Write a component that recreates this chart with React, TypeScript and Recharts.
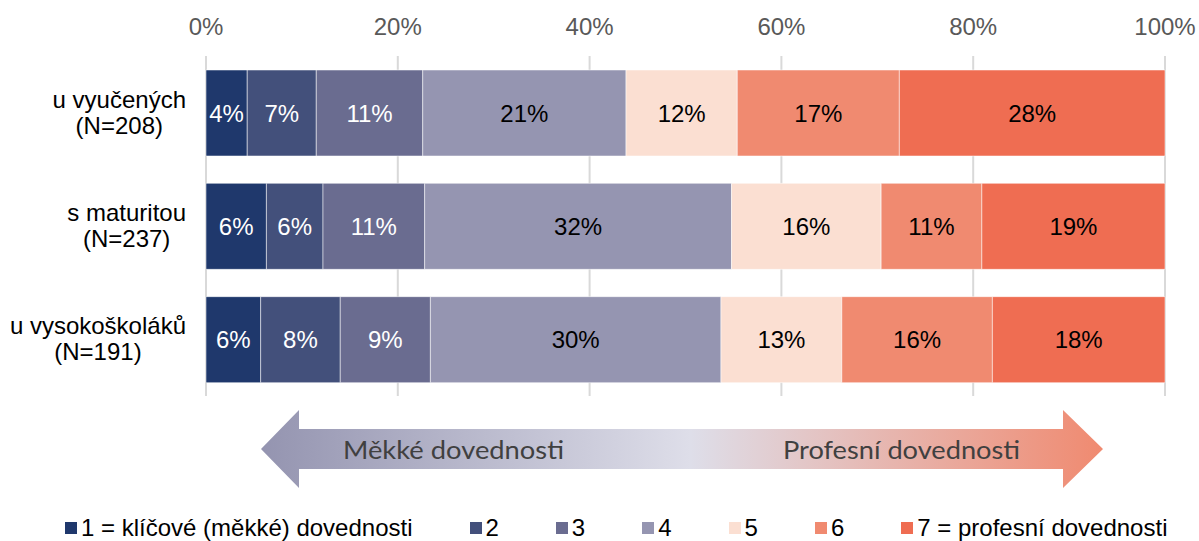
import { BarChart, Bar, XAxis, YAxis, CartesianGrid, LabelList } from "recharts";

// respondent groups (category axis)
const groups = ["u vyučených", "s maturitou", "u vysokoškoláků"];
const groupN = ["(N=208)", "(N=237)", "(N=191)"];

// share of answers per scale point, in %
const level1 = [4.3, 6.3, 5.7];
const level2 = [7.2, 5.9, 8.3];
const level3 = [11.1, 10.6, 9.4];
const level4 = [21.2, 32.0, 30.3];
const level5 = [11.6, 15.6, 12.6];
const level6 = [16.9, 10.5, 15.7];
const level7 = [27.7, 19.1, 18.0];

const seriesNames = [
  "1 = klíčové (měkké) dovednosti",
  "2",
  "3",
  "4",
  "5",
  "6",
  "7 = profesní dovednosti",
];
const seriesColors = ["#1f386c", "#43507b", "#6a6c90", "#9595b1", "#fbdfd2", "#f08a70", "#ef6d52"];
const labelColors = ["#ffffff", "#ffffff", "#ffffff", "#000000", "#000000", "#000000", "#000000"];

const xTicks = [0, 20, 40, 60, 80, 100];

const arrowLeft = "Měkké dovednosti";
const arrowRight = "Profesní dovednosti";

const levels = [level1, level2, level3, level4, level5, level6, level7];
const keys = levels.map((_, i) => `s${i + 1}`);

const data = groups.map((name, gi) => {
  const row: Record<string, string | number> = { name };
  levels.forEach((lv, si) => {
    row[keys[si]] = lv[gi];
  });
  return row;
});

const FONT = "'Liberation Sans', Arial, sans-serif";
const FS = 24;

let ctx: CanvasRenderingContext2D | null = null;
function textWidth(s: string, size: number) {
  if (!ctx) ctx = document.createElement("canvas").getContext("2d");
  if (!ctx) return s.length * size * 0.5;
  ctx.font = `${size}px 'Liberation Sans'`;
  return ctx.measureText(s).width;
}

function GroupTick(props: any) {
  const { y, payload } = props;
  const i = groups.indexOf(payload.value);
  const lines = [payload.value, groupN[i]];
  const w = Math.max(...lines.map((l) => textWidth(l, FS)));
  const cx = 186 - w / 2;
  return (
    <text textAnchor="middle" fontSize={FS} fontFamily={FONT} fill="#000">
      <tspan x={cx} y={y - 5}>{lines[0]}</tspan>
      <tspan x={cx} y={y + 21}>{lines[1]}</tspan>
    </text>
  );
}

function PercentTick(props: any) {
  const { x, payload } = props;
  return (
    <text x={x} y={35} textAnchor="middle" fontSize={FS} fontFamily={FONT} fill="#595959">
      {`${payload.value}%`}
    </text>
  );
}

function DirectionArrow() {
  return (
    <svg
      width={1199}
      height={541}
      style={{ position: "absolute", left: 0, top: 0, pointerEvents: "none" }}
    >
      <defs>
        <linearGradient id="dir" x1={261} x2={1103} y1={0} y2={0} gradientUnits="userSpaceOnUse">
          <stop offset="0" stopColor="#9494b0" />
          <stop offset="0.51" stopColor="#dedee9" />
          <stop offset="1" stopColor="#f08a70" />
        </linearGradient>
      </defs>
      <path
        d="M261,449 L299,410 L299,429 L1063,429 L1063,410 L1103,449 L1063,488 L1063,469 L299,469 L299,488 Z"
        fill="url(#dir)"
      />
      <text x={343} y={459} fontSize={25} fontFamily="Lato, 'Open Sans', sans-serif" fill="#404040" textLength={221} lengthAdjust="spacingAndGlyphs">
        {arrowLeft}
      </text>
      <text x={783} y={459} fontSize={25} fontFamily="Lato, 'Open Sans', sans-serif" fill="#404040" textLength={237} lengthAdjust="spacingAndGlyphs">
        {arrowRight}
      </text>
    </svg>
  );
}

function LegendRow() {
  return (
    <div
      style={{
        position: "absolute",
        left: 65,
        top: 515,
        display: "flex",
        alignItems: "center",
        fontFamily: FONT,
        fontSize: FS,
        lineHeight: "26px",
        color: "#000",
        whiteSpace: "nowrap",
      }}
    >
      {seriesNames.map((n, i) => (
        <div key={n} style={{ display: "flex", alignItems: "center", marginRight: 57 }}>
          <span style={{ width: 12, height: 12, background: seriesColors[i], marginRight: 4 }} />
          <span>{n}</span>
        </div>
      ))}
    </div>
  );
}

export default function App() {
  return (
    <div style={{ position: "absolute", left: 0, top: 0, width: 1199, height: 541, background: "#fff" }}>
      <BarChart
        width={1199}
        height={541}
        data={data}
        layout="vertical"
        margin={{ top: 16, right: 34, left: 0, bottom: 145 }}
        barSize={86}
      >
        <CartesianGrid horizontal={false} stroke="#d9d9d9" strokeWidth={2} />
        <XAxis
          type="number"
          orientation="top"
          domain={[0, 100]}
          ticks={xTicks}
          height={40}
          axisLine={false}
          tickLine={false}
          tick={<PercentTick />}
        />
        <YAxis
          type="category"
          dataKey="name"
          width={206}
          axisLine={false}
          tickLine={false}
          tick={<GroupTick />}
        />
        {keys.map((k, i) => (
          <Bar
            key={k}
            dataKey={k}
            name={seriesNames[i]}
            stackId="a"
            fill={seriesColors[i]}
            stroke="#ffffff"
            strokeOpacity={0.5}
            strokeWidth={1}
            isAnimationActive={false}
          >
            <LabelList
              dataKey={k}
              position="center"
              formatter={(v: any) => `${Math.round(Number(v))}%`}
              fill={labelColors[i]}
              fontSize={FS}
              fontFamily={FONT}
            />
          </Bar>
        ))}
      </BarChart>
      <DirectionArrow />
      <LegendRow />
    </div>
  );
}
